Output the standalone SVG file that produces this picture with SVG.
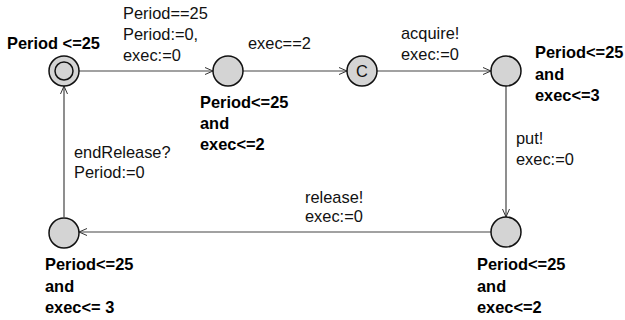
<svg xmlns="http://www.w3.org/2000/svg" width="625" height="320" viewBox="0 0 625 320">
<defs>
<marker id="arr" viewBox="0 0 8 8" refX="8" refY="4" markerWidth="8" markerHeight="8" markerUnits="userSpaceOnUse" orient="auto">
<path d="M0,0.5 L8,4 L0,7.5" fill="none" stroke="#333" stroke-width="1"/>
</marker>
<style>
.loc{fill:#d4d4d4;stroke:#111;stroke-width:1.5}
.edge{fill:none;stroke:#444;stroke-width:1.2;marker-end:url(#arr)}
.lbl{font-family:"Liberation Sans",Arial,sans-serif;font-size:16.4px;fill:#111}
.inv{font-family:"Liberation Sans",Arial,sans-serif;font-size:16.4px;font-weight:bold;fill:#000}
</style>
</defs>
<rect width="625" height="320" fill="#fff"/>
<g id="connectors">
<line class="edge" x1="79" y1="71" x2="213" y2="71"/>
<line class="edge" x1="243" y1="71" x2="347" y2="71"/>
<line class="edge" x1="377" y1="71" x2="491" y2="71"/>
<line class="edge" x1="506" y1="86" x2="506" y2="217"/>
<line class="edge" x1="491" y1="232" x2="79" y2="232"/>
<line class="edge" x1="64" y1="217" x2="64" y2="86"/>
<text class="lbl" x="123" y="19">Period==25</text>
<text class="lbl" x="123" y="40">Period:=0,</text>
<text class="lbl" x="123" y="61">exec:=0</text>
<text class="lbl" x="248" y="49">exec==2</text>
<text class="lbl" x="401" y="39">acquire!</text>
<text class="lbl" x="401" y="60">exec:=0</text>
<text class="lbl" x="516" y="144">put!</text>
<text class="lbl" x="516" y="165">exec:=0</text>
<text class="lbl" x="305" y="203">release!</text>
<text class="lbl" x="305" y="222">exec:=0</text>
<text class="lbl" x="74" y="158">endRelease?</text>
<text class="lbl" x="74" y="178">Period:=0</text>
</g>
<g id="n0">
<circle class="loc" cx="64" cy="71" r="15"/>
<circle class="loc" cx="64" cy="71" r="9"/>
<text class="inv" x="7" y="49">Period &lt;=25</text>
</g>
<g id="n1">
<circle class="loc" cx="228" cy="71" r="15"/>
<text class="inv" x="200" y="108">Period&lt;=25</text>
<text class="inv" x="200" y="129">and</text>
<text class="inv" x="200" y="150">exec&lt;=2</text>
</g>
<g id="n2">
<circle class="loc" cx="362" cy="71" r="15"/>
<text class="lbl" x="362" y="77" text-anchor="middle">C</text>
</g>
<g id="n3">
<circle class="loc" cx="506" cy="71" r="15"/>
<text class="inv" x="535" y="58">Period&lt;=25</text>
<text class="inv" x="535" y="80">and</text>
<text class="inv" x="535" y="101">exec&lt;=3</text>
</g>
<g id="n4">
<circle class="loc" cx="506" cy="232" r="15"/>
<text class="inv" x="477" y="270">Period&lt;=25</text>
<text class="inv" x="477" y="292">and</text>
<text class="inv" x="477" y="313">exec&lt;=2</text>
</g>
<g id="n5">
<circle class="loc" cx="64" cy="233" r="15"/>
<text class="inv" x="45" y="270">Period&lt;=25</text>
<text class="inv" x="45" y="292">and</text>
<text class="inv" x="45" y="313">exec&lt;= 3</text>
</g>
</svg>
